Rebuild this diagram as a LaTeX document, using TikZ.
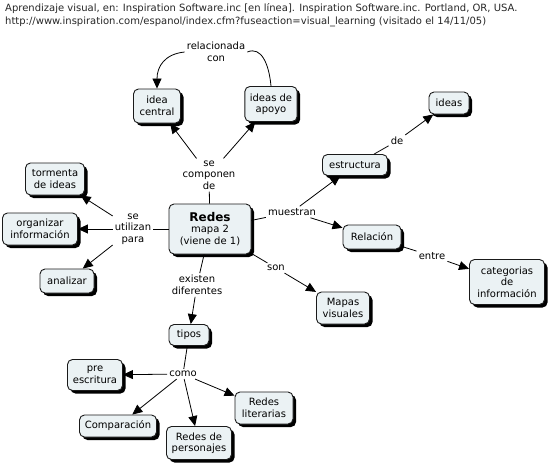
\documentclass[tikz,border=0pt]{standalone}
\usepackage{fontspec}
\setmainfont{DejaVu Sans}
\usetikzlibrary{arrows.meta,shadows}
\definecolor{boxfill}{HTML}{EBF2F4}
\definecolor{boxline}{HTML}{1A1A1A}
\begin{document}
\begin{tikzpicture}[x=1pt,y=-1pt,
  cbox/.style={draw=boxline, fill=boxfill, rounded corners=5pt, line width=0.9pt,
    align=center, font=\fontsize{10}{11.5}\selectfont, inner xsep=5pt, inner ysep=4pt,
    drop shadow={shadow xshift=3pt, shadow yshift=-3pt, fill=black, opacity=1}},
  lbl/.style={align=center, font=\fontsize{10}{11.5}\selectfont, inner sep=2pt},
  con/.style={draw=black, line width=0.8pt},
  arr/.style={con, -{Triangle[length=10pt,width=9pt]}}]
\useasboundingbox (0,0) rectangle (552,471);
% header
\node[anchor=west, font=\fontsize{10}{13}\selectfont, align=left, inner sep=0pt, text=black!85] (hd) at (5,15.5)
  {Aprendizaje visual, en: Inspiration Software.inc [en línea]. Inspiration Software.inc. Portland, OR, USA.\\
   http://www.inspiration.com/espanol/index.cfm?fuseaction=visual\_learning (visitado el 14/11/05)};
% concept boxes
\node[cbox, minimum width=47pt, minimum height=34pt] (ic) at (157,106) {idea\\central};
\node[cbox, minimum width=50pt, minimum height=35pt] (ap) at (271,104) {ideas de\\apoyo};
\node[cbox, minimum width=40pt, minimum height=22pt] (id) at (449,103) {ideas};
\node[cbox, minimum width=65pt, minimum height=21pt] (es) at (355,165) {estructura};
\node[cbox, minimum width=82pt, minimum height=50pt] (re) at (210,229) {{\fontsize{12}{13}\selectfont\bfseries Redes}\\mapa 2\\(viene de 1)};
\node[cbox, minimum width=59pt, minimum height=32pt] (to) at (55,179) {tormenta\\de ideas};
\node[cbox, minimum width=75pt, minimum height=32pt] (or) at (40,229) {organizar\\información};
\node[cbox, minimum width=54pt, minimum height=24pt] (an) at (67,281) {analizar};
\node[cbox, minimum width=58pt, minimum height=24pt] (rl) at (372,237) {Relación};
\node[cbox, minimum width=75pt, minimum height=45pt] (ca) at (507,282) {categorias\\de\\información};
\node[cbox, minimum width=53pt, minimum height=32pt] (mv) at (343,308) {Mapas\\visuales};
\node[cbox, minimum width=40pt, minimum height=21pt] (ti) at (189,335) {tipos};
\node[cbox, minimum width=55pt, minimum height=31pt] (pe) at (95,375) {pre\\escritura};
\node[cbox, minimum width=77pt, minimum height=22pt] (cp) at (118,426) {Comparación};
\node[cbox, minimum width=65pt, minimum height=33pt] (rp) at (199,443) {Redes de\\personajes};
\node[cbox, minimum width=58pt, minimum height=32pt] (rli) at (264,408) {Redes\\literarias};
% linking phrases
\node[lbl] (rel) at (216,52) {relacionada\\con};
\node[lbl] (com) at (209,175) {se\\componen\\de};
\node[lbl] (uti) at (133,229) {se\\utilizan\\para};
\node[lbl] (mue) at (292,212) {muestran};
\node[lbl] (son) at (276,268) {son};
\node[lbl] (exi) at (197,285) {existen\\diferentes};
\node[lbl] (de) at (397,141) {de};
\node[lbl] (ent) at (432,256) {entre};
\node[lbl] (como) at (183,374) {como};
% connectors
\draw[con] (re) -- (com);
\draw[arr] (com) -- (ic);
\draw[arr] (com) -- (ap);
\draw[con] (re) -- (uti);
\draw[arr] (uti) -- (to);
\draw[arr] (uti) -- (or);
\draw[arr] (uti) -- (an);
\draw[con] (re) -- (mue);
\draw[arr] (mue) -- (es);
\draw[arr] (mue) -- (rl);
\draw[con] (re) -- (son);
\draw[arr] (son) -- (mv);
\draw[con] (re) -- (exi);
\draw[arr] (exi) -- (ti);
\draw[con] (ti) -- (como);
\draw[arr] (como) -- (pe);
\draw[arr] (como) -- (cp);
\draw[arr] (como) -- (rp);
\draw[arr] (como) -- (rli);
\draw[con] (es) -- (de);
\draw[arr] (de) -- (id);
\draw[con] (rl) -- (ent);
\draw[arr] (ent) -- (ca);
\draw[con] (ap.north) .. controls +(-2,-22) and +(14,-6) .. (rel.east);
\draw[arr] (rel.west) .. controls +(-20,2) and +(0,-22) .. (ic.north);
\end{tikzpicture}
\end{document}
